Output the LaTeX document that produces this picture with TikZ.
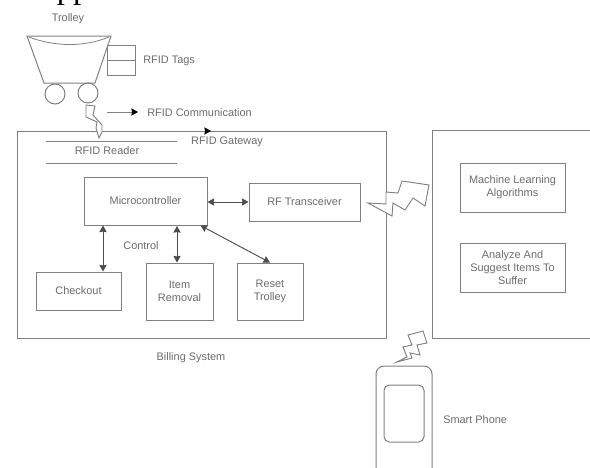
\documentclass[tikz,border=0pt]{standalone}
\usepackage{fontspec}
\setmainfont{Liberation Sans}
\newfontfamily\topfont{Liberation Serif}
\usetikzlibrary{arrows.meta}
\definecolor{linegray}{gray}{0.5}
\definecolor{textgray}{gray}{0.42}
\tikzset{
  blockbox/.style 2 args={draw=linegray, line width=0.75pt, align=center, text=textgray, font=\fontsize{8.2}{9.8}\selectfont, inner sep=0pt, minimum width=#1*0.75pt, minimum height=#2*0.75pt},
  plainlabel/.style={text=textgray, font=\fontsize{8.2}{9.8}\selectfont, inner sep=0pt, yshift=-0.8pt},
  bolt/.style={draw=linegray, line width=0.7pt, fill=white, line join=miter},
  link/.style={draw=black!70, line width=0.7pt, {Stealth[length=5pt,width=5.5pt,inset=0.5pt]}-{Stealth[length=5pt,width=5.5pt,inset=0.5pt]}},
  oneway/.style={draw=linegray, line width=0.7pt, -{Stealth[length=5pt,width=5.5pt,inset=0.5pt,black]}}
}
\begin{document}
\begin{tikzpicture}[x=0.75pt, y=-0.75pt]
\useasboundingbox (0,0) rectangle (590,468);
\node[anchor=base west, inner sep=0pt, font=\fontsize{24.5}{28}\selectfont\topfont] (toptext) at (13,-1.5) {dropped into the cart.};
% outer frames
\draw[draw=linegray, line width=0.75pt] (17,131) rectangle (386,338);
\draw[draw=linegray, line width=0.75pt] (595,130) -- (432,130) -- (432,338) -- (595,338);
% trolley
\draw[draw=linegray, line width=0.75pt] (27,36) -- (111,36) -- (95,83) -- (44,83) -- cycle;
\draw[draw=linegray, line width=0.6pt] (29,37) .. controls (55,47) and (85,47) .. (109,37);
\draw[draw=linegray, line width=0.75pt] (55,94) circle (10);
\draw[draw=linegray, line width=0.75pt] (88,93) circle (10);
\draw[draw=linegray, line width=0.75pt] (107,45) rectangle (135,75);
\draw[draw=linegray, line width=0.6pt] (107,60) -- (135,60);
\node[plainlabel] (trolleylabel) at (68,18) {Trolley};
\node[plainlabel, anchor=west] (tagslabel) at (143,60) {RFID Tags};
% rfid part
\draw[bolt] (86,105) -- (95,106) -- (93,115) -- (102,125) -- (102,132) -- (99,138) -- (96,128) -- (97,122) -- (86,117) -- cycle;
\coordinate (commstart) at (107,112);
\coordinate (commend) at (138,112);
\draw[oneway] (commstart) -- (commend);
\node[plainlabel, anchor=west] (commlabel) at (147,112) {RFID Communication};
\coordinate (gatewaytip) at (211,131);
\draw[oneway] (190,131) -- (gatewaytip);
\node[plainlabel] (gatewaylabel) at (227,141) {RFID Gateway};
\draw[draw=linegray, line width=0.7pt] (46,141) -- (177,141);
\draw[draw=linegray, line width=0.7pt] (46,163) -- (177,163);
\node[plainlabel] (readerlabel) at (107,150) {RFID Reader};
% billing system blocks
\node[blockbox={123}{48}] (micro) at (145.5,201) {Microcontroller};
\node[blockbox={111}{38}] (transceiver) at (304.5,202) {RF Transceiver};
\node[blockbox={85}{38}] (checkout) at (78.5,291) {Checkout};
\node[blockbox={67}{57}] (removal) at (179.5,291.5) {Item\\Removal};
\node[blockbox={66}{57}] (reset) at (270,291.5) {Reset\\Trolley};
\draw[link] (micro.east |- transceiver.west) -- (transceiver.west);
\draw[link] (micro.south -| checkout.north) ++(24.5,0) -- ++(0,46);
\draw[link] (removal.north -| 177,0) -- (177,226);
\draw[link] (micro.south east) ++(-7,0) -- (reset.north);
\node[plainlabel] (controllabel) at (141,245) {Control};
\node[plainlabel] (billinglabel) at (191,357) {Billing System};
% wireless links
\draw[bolt] (368,203) -- (386,204) -- (386,192) -- (398,193) -- (402,181) -- (429,185) -- (425,206) -- (413,198) -- (405,210) -- (393,203) -- (392,216) -- cycle;
\draw[bolt] (397,362) -- (407,357) -- (403,347) -- (412,345) -- (408,335) -- (423,331) -- (427,343) -- (417,345) -- (420,355) -- (410,353) -- (412,358) -- cycle;
% right side
\node[blockbox={105}{49}] (learning) at (512.5,187.5) {Machine Learning\\Algorithms};
\node[blockbox={105}{49}] (analyze) at (512.5,267.5) {Analyze And\\Suggest Items To\\Suffer};
% phone
\draw[draw=linegray, line width=0.75pt, rounded corners=6] (376,475) -- (376,366) -- (432,366) -- (432,475);
\draw[draw=linegray, line width=0.75pt, rounded corners=4] (384,385) rectangle (424,442);
\node[plainlabel, anchor=west] (phonelabel) at (443,419) {Smart Phone};
\end{tikzpicture}
\end{document}
